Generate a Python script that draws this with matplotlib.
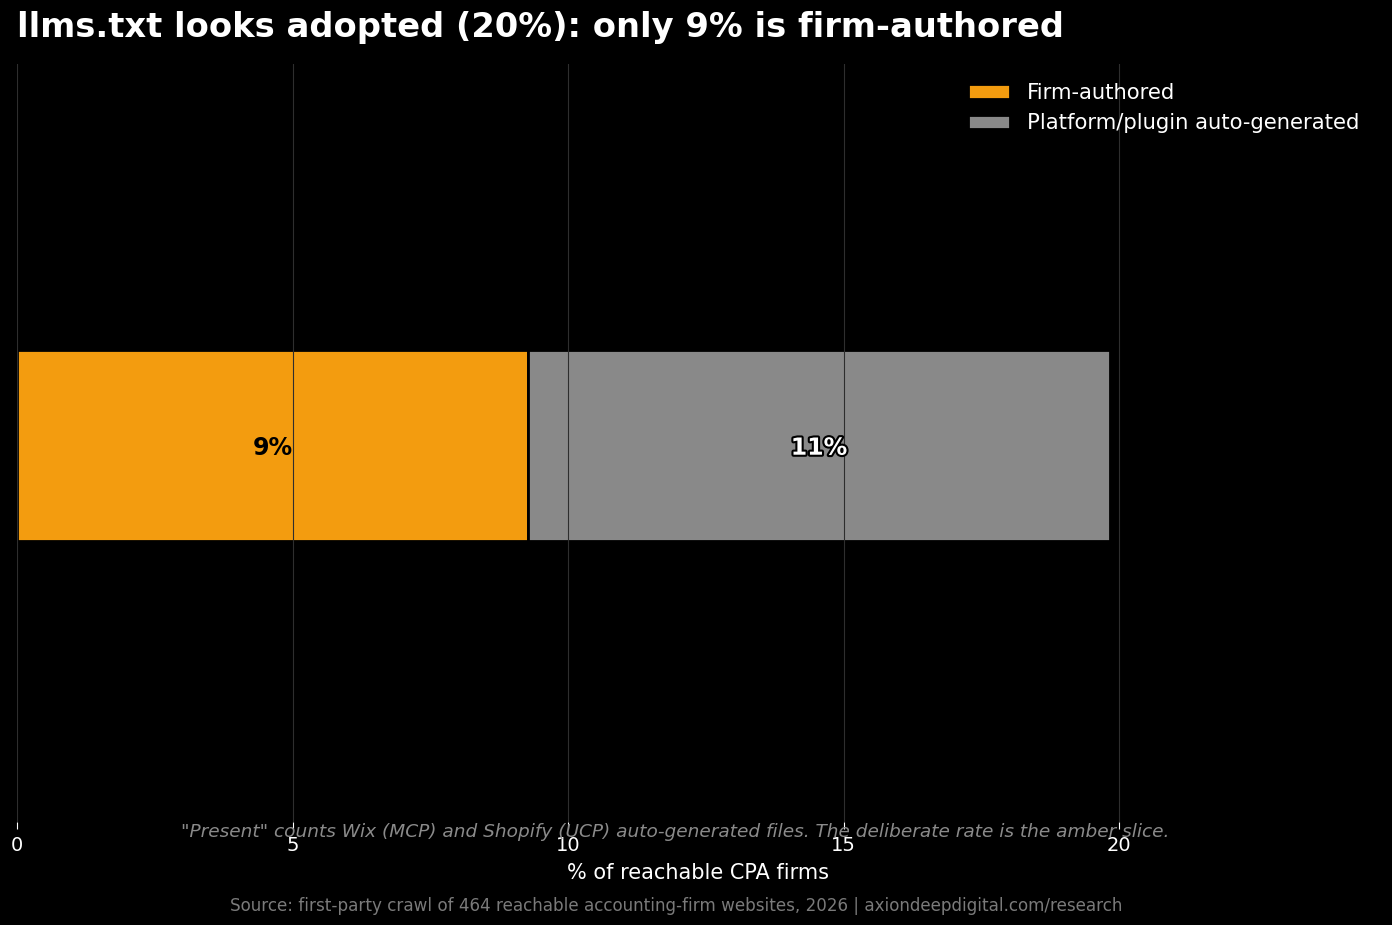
import matplotlib.pyplot as plt
import matplotlib.patheffects as pe

# share of 464 reachable firms
series = ["Firm-authored", "Platform/plugin auto-generated"]
values = [9.27, 10.56]
labels = ["9%", "11%"]
colors = ["#f39c0f", "#898989"]
xticks = [0, 5, 10, 15, 20]

fig = plt.figure(figsize=(13.92, 9.25), dpi=100, facecolor="black")
ax = fig.add_axes([0.0122, 0.1114, 0.978, 0.8195])
ax.set_facecolor("black")

left = 0
for name, v, lab, c in zip(series, values, labels, colors):
    ax.barh(0, v, left=left, height=0.5, color=c, edgecolor="black",
            linewidth=2, label=name, zorder=1)
    if c == colors[0]:
        ax.text(left + v / 2, -0.005, lab, ha="center", va="center",
                fontsize=17, fontweight="bold", color="black", zorder=3)
    else:
        ax.text(left + v / 2, -0.005, lab, ha="center", va="center",
                fontsize=17, fontweight="bold", color="white", zorder=3,
                path_effects=[pe.withStroke(linewidth=3, foreground="black")])
    left += v

ax.set_xlim(0, 24.7)
ax.set_ylim(-0.985, 1.0)
ax.set_yticks([])
ax.set_xticks(xticks)
ax.tick_params(axis="x", colors="white", labelsize=14, length=5, width=0.8, pad=5)
for s in ax.spines.values():
    s.set_visible(False)
ax.grid(axis="x", color="#2e2e2e", linewidth=0.8, zorder=2)
ax.set_axisbelow(False)
ax.set_xlabel("% of reachable CPA firms", color="white", fontsize=15, labelpad=6)

leg = ax.legend(loc="upper right", frameon=False, fontsize=15.2,
                labelcolor="white", handlelength=2, borderaxespad=0.5)

fig.text(0.0122, 0.9705, "llms.txt looks adopted (20%): only 9% is firm-authored",
         ha="left", va="center", fontsize=24.3, fontweight="bold", color="white")
fig.text(0.485, 0.101, '"Present" counts Wix (MCP) and Shopify (UCP) auto-generated files. '
         'The deliberate rate is the amber slice.', ha="center", va="center",
         fontsize=13.3, style="italic", color="#8a8a8a")
fig.text(0.486, 0.021, "Source: first-party crawl of 464 reachable accounting-firm websites, "
         "2026 | axiondeepdigital.com/research", ha="center", va="center",
         fontsize=12.1, color="#7a7a7a")

fig.savefig("out.png", dpi=100, facecolor="black")
